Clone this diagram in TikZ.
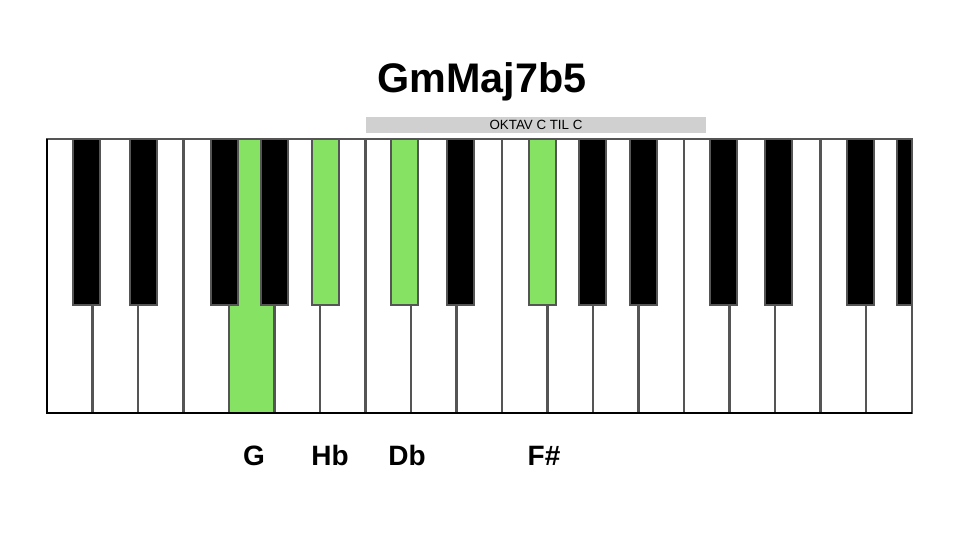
\documentclass[tikz,border=0pt]{standalone}
\usepackage{fontspec}
\setmainfont{Liberation Sans}
\definecolor{noteGreen}{RGB}{134,226,98}
\definecolor{keyEdge}{RGB}{85,85,85}
\definecolor{barGray}{RGB}{208,208,208}
\begin{document}
\begin{tikzpicture}[x=0.75pt, y=-0.75pt,
	keyline/.style={keyEdge, line width=1.6pt},
	blackkey/.style={draw=keyEdge, line width=1.8pt},
	notename/.style={anchor=base, font=\fontsize{21}{25}\selectfont\bfseries}]
	\useasboundingbox (0,0) rectangle (960,540);
	\fill[white] (0,0) rectangle (960,540);
	% Tiêu đề và thanh quãng tám
	\node[anchor=base, font=\fontsize{31}{37}\selectfont\bfseries] (title) at (482,92) {GmMaj7b5};
	\fill[barGray] (366,117) rectangle (706,133);
	\node[font=\fontsize{10}{12}\selectfont] (oktav) at (536,125) {OKTAV C TIL C};
	% Phím trắng
	\fill[white] (47,139) rectangle (912,413);
	\fill[noteGreen] (229.5,139) rectangle (275,413);
	\foreach \i in {1,...,18}
		\draw[keyline] ({47+\i*45.5},139) -- ({47+\i*45.5},413);
	% Phím đen
	\foreach \xk/\col in {73/black, 130/black, 211/black, 261/black, 312/noteGreen,
		391/noteGreen, 447/black, 529/noteGreen, 579/black, 630/black,
		710/black, 765/black, 847/black}
		\filldraw[blackkey, fill=\col] (\xk,139) rectangle ++(27,166);
	\filldraw[blackkey, fill=black] (897,139) rectangle (912,305);
	% Khung bàn phím
	\draw[keyline] (47,139) rectangle (912,413);
	\draw[black, line width=2pt] (47,139) -- (47,413) -- (912,413);
	% Tên nốt
	\node[notename] (noteG) at (254,465) {G};
	\node[notename] (noteHb) at (330,465) {Hb};
	\node[notename] (noteDb) at (407,465) {Db};
	\node[notename] (noteFs) at (544,465) {F\#};
\end{tikzpicture}
\end{document}
